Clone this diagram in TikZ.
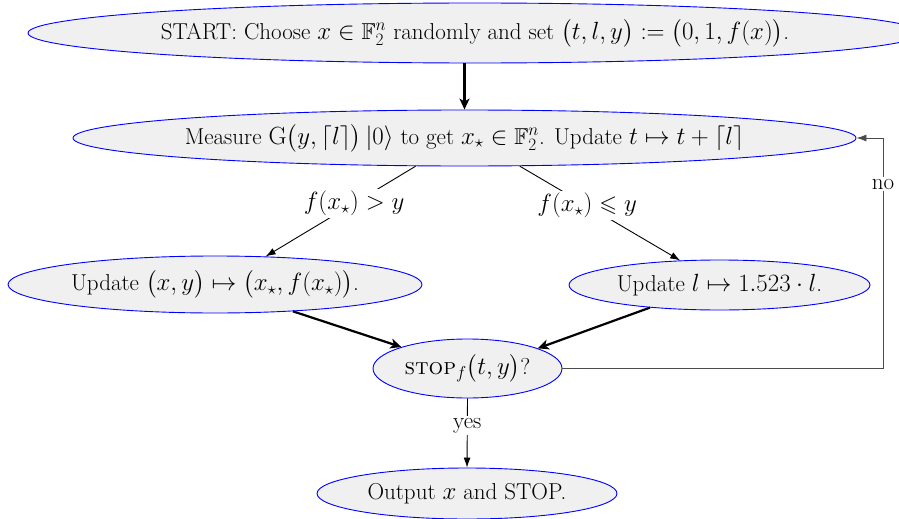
\documentclass[tikz,border=0pt]{standalone}
\usepackage{amsmath,amssymb}
\usetikzlibrary{shapes.geometric,arrows.meta,calc}
\newcommand{\ctext}[1]{\makebox[0pt]{#1}}
\begin{document}
\begin{tikzpicture}[x=1pt,y=-1pt,
  box/.style={ellipse,draw=blue,fill=black!6,line width=0.9pt,inner sep=0pt,font=\fontsize{23}{27}\selectfont},
  thin/.style={line width=0.9pt,-{Latex[length=10pt,width=7pt]}},
  thick/.style={line width=2.2pt,-{Stealth[length=11pt,width=10pt,inset=3pt]}},
  lab/.style={fill=white,inner sep=2pt,font=\fontsize{23}{27}\selectfont}]
\useasboundingbox (0,0) rectangle (899,519);
\node[box,minimum width=894pt,minimum height=60pt] (S) at (475,33)
  {\ctext{START: Choose $x\in\mathbb{F}_2^n$ randomly and set $\big(t,l,y\big):=\big(0,1,f(x)\big)$.}};
\node[box,minimum width=783pt,minimum height=56pt] (M) at (464.5,138)
  {\ctext{Measure $\mathrm{G}\big(y,\lceil l\rceil\big)\,|0\rangle$ to get $x_\star\in\mathbb{F}_2^n$. Update $t\mapsto t+\lceil l\rceil$}};
\node[box,minimum width=414pt,minimum height=57pt] (L) at (215,284.5)
  {\ctext{Update $\big(x,y\big)\mapsto\big(x_\star,f(x_\star)\big)$.}};
\node[box,minimum width=301pt,minimum height=50pt] (R) at (719.5,285)
  {\ctext{Update $l\mapsto 1.523\cdot l$.}};
\node[box,minimum width=189pt,minimum height=59pt] (T) at (467.5,368.5)
  {\ctext{\textsc{stop}$_f\big(t,y\big)$?}};
\node[box,minimum width=300pt,minimum height=51pt] (O) at (467,493.5)
  {\ctext{Output $x$ and STOP.}};
\coordinate (fb) at (883,368.5);
\draw[thick] (S.south -| M.north) -- (M.north);
\draw[thin] (M.210.5) -- node[lab,pos=0.41]{$f(x_\star)>y$} (L.29);
\draw[thin] (M.333) -- node[lab,pos=0.42]{$f(x_\star)\leqslant y$} (R.148.5);
\draw[thick] (L.341.5) -- (T.162.8);
\draw[thick] (R.198.6) -- (T.16.5);
\draw[thin,draw=black!70] (T.east) -- (fb) |- node[lab,pos=0.4]{no} (M.east);
\draw[thin] (T.south) -- node[lab,pos=0.39]{yes} (O.north);
\end{tikzpicture}
\end{document}
